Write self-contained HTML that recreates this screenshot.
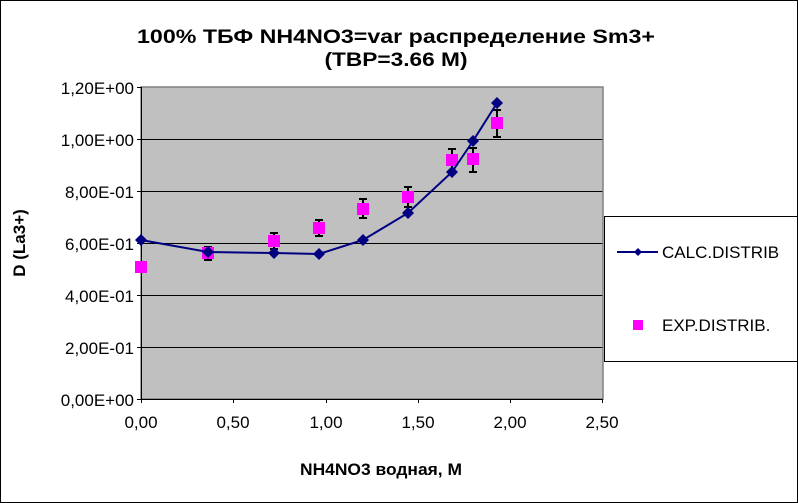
<!DOCTYPE html>
<html><head><meta charset="utf-8"><style>html,body{margin:0;padding:0;background:#fff}svg{display:block}</style></head>
<body>
<svg width="798" height="503" viewBox="0 0 798 503" font-family="Liberation Sans, Arial, sans-serif">
<rect x="0.5" y="0.5" width="797" height="502" fill="#fff" stroke="#000"/>
<text x="396" y="43" font-size="19" font-weight="bold" text-anchor="middle" textLength="518" lengthAdjust="spacingAndGlyphs">100%  ТБФ  NH4NO3=var распределение Sm3+</text>
<text x="396" y="66" font-size="19" font-weight="bold" text-anchor="middle" textLength="143" lengthAdjust="spacingAndGlyphs">(TBP=3.66 M)</text>
<rect x="141" y="87" width="462" height="312" fill="#c0c0c0"/>
<g stroke="#000" stroke-width="1">
<line x1="141" y1="139.5" x2="603" y2="139.5"/>
<line x1="141" y1="191.5" x2="603" y2="191.5"/>
<line x1="141" y1="243.5" x2="603" y2="243.5"/>
<line x1="141" y1="295.5" x2="603" y2="295.5"/>
<line x1="141" y1="347.5" x2="603" y2="347.5"/>
</g>
<rect x="141" y="87" width="462" height="312" fill="none" stroke="#808080" stroke-width="1.5"/>
<g stroke="#000"><line x1="141.5" y1="87" x2="141.5" y2="403"/><line x1="137" y1="399.5" x2="603" y2="399.5"/>
<line x1="137" y1="87.5" x2="141" y2="87.5"/><line x1="137" y1="139.5" x2="141" y2="139.5"/><line x1="137" y1="191.5" x2="141" y2="191.5"/><line x1="137" y1="243.5" x2="141" y2="243.5"/><line x1="137" y1="295.5" x2="141" y2="295.5"/><line x1="137" y1="347.5" x2="141" y2="347.5"/>
<line x1="233.5" y1="399" x2="233.5" y2="403"/><line x1="326.5" y1="399" x2="326.5" y2="403"/><line x1="418.5" y1="399" x2="418.5" y2="403"/><line x1="510.5" y1="399" x2="510.5" y2="403"/><line x1="602.5" y1="399" x2="602.5" y2="403"/></g>
<g font-size="17" text-anchor="end">
<text x="134" y="94">1,20E+00</text><text x="134" y="146">1,00E+00</text><text x="134" y="198">8,00E-01</text><text x="134" y="250">6,00E-01</text><text x="134" y="302">4,00E-01</text><text x="134" y="354">2,00E-01</text><text x="134" y="406">0,00E+00</text></g>
<g font-size="17" text-anchor="middle">
<text x="141" y="428">0,00</text><text x="233" y="428">0,50</text><text x="326" y="428">1,00</text><text x="418" y="428">1,50</text><text x="510" y="428">2,00</text><text x="602" y="428">2,50</text></g>
<text x="381" y="475" font-size="17" font-weight="bold" text-anchor="middle" textLength="162" lengthAdjust="spacingAndGlyphs">NH4NO3  водная, М</text>
<text transform="translate(25,243) rotate(-90)" font-size="17" font-weight="bold" text-anchor="middle">D (La3+)</text>
<g stroke="#000" stroke-width="2">
<path d="M208 247V260M204 247h8M204 260h8"/>
<path d="M274 233V249M270 233h8M270 249h8"/>
<path d="M319 220V236M315 220h8M315 236h8"/>
<path d="M363 199V218M359 199h8M359 218h8"/>
<path d="M408 187V207M404 187h8M404 207h8"/>
<path d="M452 149V172M448 149h8M448 172h8"/>
<path d="M473 148V172M469 148h8M469 172h8"/>
<path d="M497 110V137M493 110h8M493 137h8"/>
</g>
<g fill="#ff00ff">
<rect x="135" y="261" width="12" height="12"/><rect x="202" y="247" width="12" height="12"/><rect x="268" y="235" width="12" height="12"/><rect x="313" y="222" width="12" height="12"/><rect x="357" y="203" width="12" height="12"/><rect x="402" y="191" width="12" height="12"/><rect x="446" y="154" width="12" height="12"/><rect x="467" y="153" width="12" height="12"/><rect x="491" y="117" width="12" height="12"/></g>
<polyline points="141,240 208,252 274,253 319,254 363,240 408,213 452,172 473,141 497,103" fill="none" stroke="#000080" stroke-width="2"/>
<g fill="#000080">
<path d="M141 234l6 6-6 6-6-6z"/><path d="M208 246l6 6-6 6-6-6z"/><path d="M274 247l6 6-6 6-6-6z"/><path d="M319 248l6 6-6 6-6-6z"/><path d="M363 234l6 6-6 6-6-6z"/><path d="M408 207l6 6-6 6-6-6z"/><path d="M452 166l6 6-6 6-6-6z"/><path d="M473 135l6 6-6 6-6-6z"/><path d="M497 97l6 6-6 6-6-6z"/></g>
<rect x="604.5" y="216.5" width="193" height="145" fill="#fff" stroke="#000"/>
<line x1="617" y1="252" x2="658" y2="252" stroke="#000080" stroke-width="2"/>
<path d="M638 248l4 4-4 4-4-4z" fill="#000080"/>
<text x="662" y="258" font-size="17">CALC.DISTRIB</text>
<rect x="633" y="320" width="10" height="10" fill="#ff00ff"/>
<text x="662" y="331" font-size="17">EXP.DISTRIB.</text>
</svg>
</body></html>
